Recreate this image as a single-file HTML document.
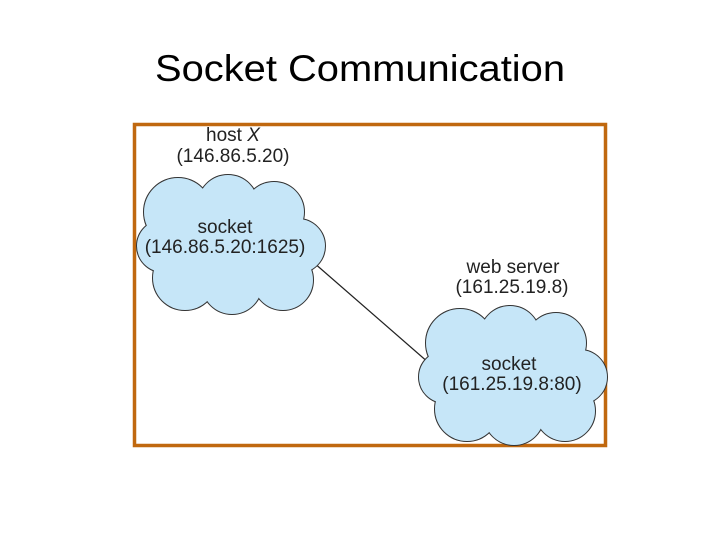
<!DOCTYPE html>
<html><head><meta charset="utf-8"><style>
html,body{margin:0;padding:0;background:#fff;}
svg{display:block;}
text{font-family:"Liberation Sans",sans-serif;}
</style></head><body>
<svg width="720" height="540" viewBox="0 0 720 540">
<text x="360" y="81" text-anchor="middle" font-size="37" fill="#000" textLength="410" lengthAdjust="spacingAndGlyphs">Socket Communication</text>
<rect x="134.5" y="124.5" width="471" height="321" fill="#fff" stroke="#c0680f" stroke-width="3.5"/>
<line x1="313" y1="262" x2="437" y2="370" stroke="#222" stroke-width="1.2"/>
<g id="c1">
<g fill="none" stroke="#333" stroke-width="2">
<circle cx="178" cy="212" r="34"/><circle cx="228" cy="205" r="30"/><circle cx="274" cy="212" r="30"/>
<circle cx="298" cy="246" r="27"/><circle cx="283" cy="280" r="30"/><circle cx="232" cy="284" r="30"/>
<circle cx="185" cy="278" r="32"/><circle cx="163" cy="246" r="26"/>
</g>
<g fill="#c6e6f8">
<circle cx="178" cy="212" r="34"/><circle cx="228" cy="205" r="30"/><circle cx="274" cy="212" r="30"/>
<circle cx="298" cy="246" r="27"/><circle cx="283" cy="280" r="30"/><circle cx="232" cy="284" r="30"/>
<circle cx="185" cy="278" r="32"/><circle cx="163" cy="246" r="26"/><ellipse cx="230" cy="245" rx="70" ry="45"/>
</g>
</g>
<use href="#c1" transform="translate(282,131)"/>
<g font-size="19" fill="#222" text-anchor="middle">
<text x="233" y="141">host <tspan font-style="italic">X</tspan></text>
<text x="233" y="162">(146.86.5.20)</text>
<text x="225" y="233">socket</text>
<text x="225" y="253">(146.86.5.20:1625)</text>
<text x="513" y="273">web server</text>
<text x="512" y="293">(161.25.19.8)</text>
<text x="509" y="370">socket</text>
<text x="512" y="390">(161.25.19.8:80)</text>
</g>
</svg>
</body></html>
